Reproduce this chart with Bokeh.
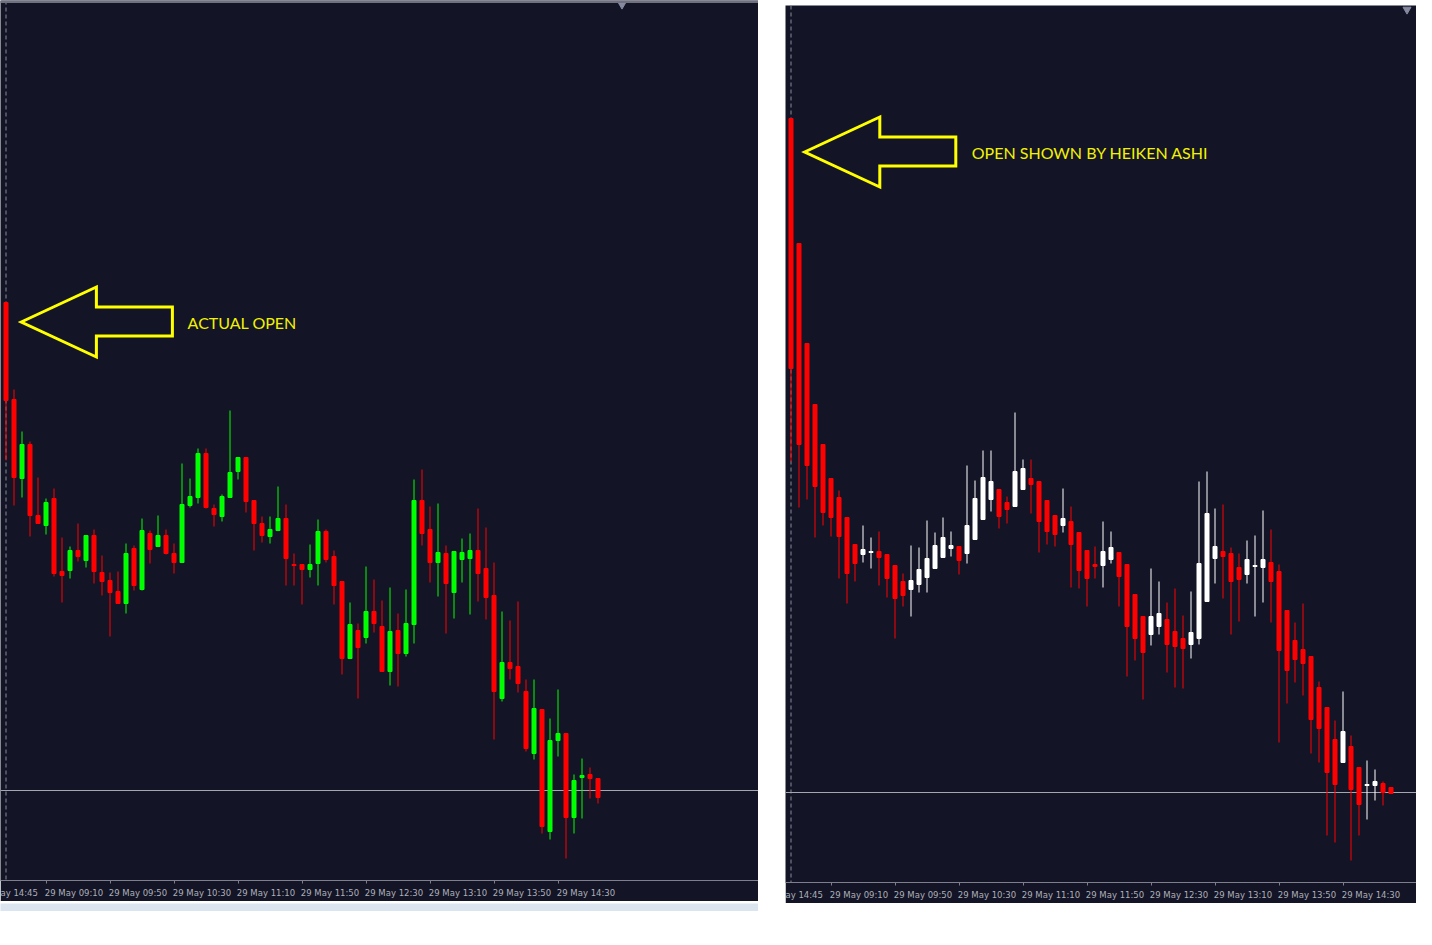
import numpy as np
from bokeh.plotting import figure
from bokeh.models import Range1d, Span, FixedTicker, Spacer, ColumnDataSource
from bokeh.layouts import row, column
from bokeh.core.properties import value
from bokeh.embed import file_html
from bokeh.resources import INLINE

# ---------------- data (chart points) ----------------
# Left chart: actual 5-minute candles
act_open = [698, 601, 522, 556, 485, 475, 502, 429, 430, 450, 440, 465, 428, 420, 409, 397,
            452, 411, 467, 454, 465, 447, 438, 495, 503, 547, 492, 484, 503, 529, 543, 500,
            477, 464, 470, 482, 436, 436, 431, 437, 469, 444, 419, 342, 370, 363, 389, 374,
            329, 370, 347, 376, 500, 471, 438, 447, 408, 441, 442, 450, 432, 405, 302, 338,
            334, 309, 247, 291, 169, 260, 267, 183, 223, 226, 222]
act_high = [698, 611, 569, 559, 523, 502, 512, 463, 454, 477, 465, 471, 445, 428, 429, 457,
            455, 482, 470, 485, 471, 457, 537, 522, 552, 552, 496, 506, 590, 543, 543, 500,
            484, 484, 514, 496, 447, 436, 456, 481, 471, 450, 419, 398, 377, 434, 421, 400,
            413, 387, 411, 521, 531, 494, 497, 455, 449, 462, 467, 492, 473, 438, 389, 380,
            399, 321, 321, 291, 282, 311, 267, 226, 242, 233, 222]
act_low = [540, 495, 503, 464, 477, 466, 424, 398, 422, 439, 433, 417, 405, 364, 397, 387,
           410, 410, 437, 454, 446, 427, 438, 493, 497, 492, 474, 479, 503, 521, 488, 450,
           458, 457, 470, 415, 415, 396, 423, 415, 438, 396, 326, 342, 302, 357, 368, 329,
           315, 314, 344, 357, 455, 418, 404, 367, 382, 418, 386, 399, 381, 261, 299, 321,
           308, 249, 241, 167, 161, 244, 142, 167, 182, 202, 197]
act_close = [600, 523, 556, 485, 477, 498, 427, 425, 450, 444, 465, 429, 419, 408, 397, 447,
             415, 470, 451, 465, 447, 438, 496, 504, 547, 493, 486, 504, 528, 543, 499, 477,
             465, 471, 482, 442, 435, 431, 436, 469, 441, 415, 342, 376, 353, 389, 377, 329,
             369, 347, 377, 500, 467, 438, 448, 417, 449, 448, 450, 427, 403, 309, 338, 332,
             317, 252, 292, 174, 260, 267, 183, 220, 225, 222, 203]

# Right chart: Heiken Ashi bars
ha_open = [884, 759, 659, 598, 558, 524, 505, 485, 458, 448, 450, 451, 448, 437, 421, 413,
           418, 425, 434, 445, 454, 456, 449, 463, 483, 503, 513, 500, 496, 513, 524, 521,
           502, 487, 477, 481, 470, 452, 438, 437, 443, 450, 438, 408, 386, 368, 376, 383,
           371, 364, 358, 364, 401, 444, 451, 449, 435, 428, 436, 435, 440, 431, 392, 362,
           353, 346, 315, 295, 263, 240, 256, 235, 217, 217, 219, 215]
ha_high = [884, 759, 659, 598, 558, 524, 512, 485, 458, 477, 465, 471, 448, 437, 429, 457,
           455, 482, 470, 485, 471, 456, 537, 522, 552, 552, 513, 506, 590, 543, 543, 521,
           502, 487, 514, 496, 470, 452, 456, 481, 471, 450, 438, 408, 386, 434, 421, 400,
           414, 387, 411, 521, 531, 494, 498, 455, 449, 462, 467, 492, 473, 438, 392, 380,
           399, 346, 321, 295, 282, 311, 267, 235, 242, 233, 221, 215]
ha_low = [541, 495, 503, 465, 477, 466, 424, 399, 421, 440, 434, 417, 405, 364, 396, 386,
          410, 410, 434, 445, 446, 428, 439, 463, 483, 491, 474, 479, 496, 513, 489, 450,
          458, 456, 470, 415, 414, 396, 424, 415, 439, 396, 326, 342, 303, 357, 368, 330,
          315, 314, 344, 358, 401, 419, 404, 368, 381, 419, 386, 400, 380, 260, 299, 320,
          307, 249, 240, 167, 160, 240, 142, 167, 183, 202, 197, 209]
ha_close = [634, 558, 537, 516, 490, 485, 466, 429, 439, 453, 451, 445, 424, 404, 407, 422,
            433, 444, 457, 465, 457, 442, 477, 504, 525, 521, 486, 493, 531, 534, 518, 481,
            471, 468, 484, 458, 432, 424, 436, 451, 455, 426, 376, 364, 350, 386, 389, 358,
            356, 354, 370, 439, 489, 456, 446, 421, 423, 443, 437, 443, 421, 352, 332, 343,
            339, 283, 274, 230, 218, 271, 213, 198, 218, 221, 210, 209]

tick_bars = [5, 13, 21, 29, 37, 45, 53, 61, 69]
tick_labels = ["29 May 09:10", "29 May 09:50", "29 May 10:30", "29 May 11:10",
               "29 May 11:50", "29 May 12:30", "29 May 13:10", "29 May 13:50",
               "29 May 14:30"]
cut_label = "ay 14:45"
bid_level = 210
shift_bar = 77

BG = "#131426"
GRID_GRAY = "#7d7f8c"


def make_panel(width, height, x_end, y_lo, y_hi, O, H, L, C, up_col, down_col, top_line):
    p = figure(width=width, height=height, output_backend="svg", toolbar_location=None,
               x_range=Range1d(-0.6875, x_end), y_range=Range1d(y_lo, y_hi),
               y_axis_location=None, min_border_left=0, min_border_right=0,
               min_border_top=0, min_border_bottom=21)
    p.background_fill_color = BG
    p.border_fill_color = BG
    p.outline_line_color = None
    p.xgrid.visible = False
    p.ygrid.visible = False

    ax = p.xaxis[0]
    centers = [b + 3.5 for b in tick_bars] + [1.625]
    labels = tick_labels + [cut_label]
    ax.ticker = FixedTicker(ticks=centers, minor_ticks=tick_bars)
    ax.major_label_overrides = {c: t for c, t in zip(centers, labels)}
    ax.major_tick_line_color = None
    ax.major_tick_out = 0
    ax.major_tick_in = 0
    ax.minor_tick_line_color = GRID_GRAY
    ax.minor_tick_out = 3
    ax.minor_tick_in = 0
    ax.axis_line_color = GRID_GRAY
    ax.major_label_text_color = "#adafb8"
    ax.major_label_text_font = "DejaVu Sans"
    ax.major_label_text_font_size = "8.5px"
    ax.major_label_standoff = 4

    # period separator and bid line
    p.add_layout(Span(location=0, dimension="height", line_color="#8a8c99",
                      line_dash="4 3", line_width=1, level="underlay"))
    p.add_layout(Span(location=bid_level, dimension="width", line_color="#a4a6b0",
                      line_width=1, level="underlay"))
    if top_line:
        p.add_layout(Span(location=y_hi - 1.5, dimension="width", line_color="#6f7182",
                          line_width=2))

    O = np.array(O, float); C = np.array(C, float)
    idx = np.arange(len(O))
    cols = [up_col if c >= o else down_col for o, c in zip(O, C)]
    src = ColumnDataSource(dict(x=idx, top=np.maximum(O, C), bottom=np.minimum(O, C),
                                high=H, low=L, color=cols))
    p.segment("x", "high", "x", "low", line_color="color", line_width=1, source=src)
    p.vbar(x="x", width=0.5, top="top", bottom="bottom", fill_color="color",
           line_color="color", line_width=1, source=src)

    # chart-shift marker
    p.scatter(x=[shift_bar], y=[y_hi - 4], marker="inverted_triangle", size=8,
              fill_color="#868aa0", line_color="#868aa0")
    return p


def add_arrow(p, tip_x, tip_y, text, text_x):
    # outline arrow pointing left, in chart units relative to its tip
    xs = [tip_x, tip_x + 9.4, tip_x + 9.4, tip_x + 18.9, tip_x + 18.9, tip_x + 9.4, tip_x + 9.4]
    ys = [tip_y, tip_y + 35, tip_y + 15, tip_y + 15, tip_y - 14, tip_y - 14, tip_y - 35]
    p.patch(xs, ys, fill_color=None, line_color="#ffff00", line_width=3, line_join="miter")
    p.text(x=[text_x], y=[tip_y], text=[text], text_color="#f2f200",
           text_font=value("Lato"), text_font_size="16px",
           text_align="left", text_baseline="middle")


left = make_panel(758, 901, 94.0625, 120, 1000, act_open, act_high, act_low, act_close,
                  "#00ff00", "#ff0000", True)
add_arrow(left, 1.9, 678.5, "ACTUAL OPEN", 22.7)

right = make_panel(631, 898, 78.1875, 120, 997, ha_open, ha_high, ha_low, ha_close,
                   "#ffffff", "#ff0000", False)
add_arrow(right, 1.7, 850.5, "OPEN SHOWN BY HEIKEN ASHI", 22.6)

# window scrollbar strip under the left chart
strip = figure(width=758, height=10, output_backend="svg", toolbar_location=None,
               x_axis_location=None, y_axis_location=None, min_border_left=0,
               min_border_right=0, min_border_top=0, min_border_bottom=2)
strip.background_fill_color = "#dbe5ef"
strip.border_fill_color = "#5a5a5a"
strip.outline_line_color = None
strip.xgrid.visible = False
strip.ygrid.visible = False

layout = row(column(left, strip), Spacer(width=27), column(Spacer(height=5), right))

open("out.html", "w").write(file_html(layout, INLINE))
